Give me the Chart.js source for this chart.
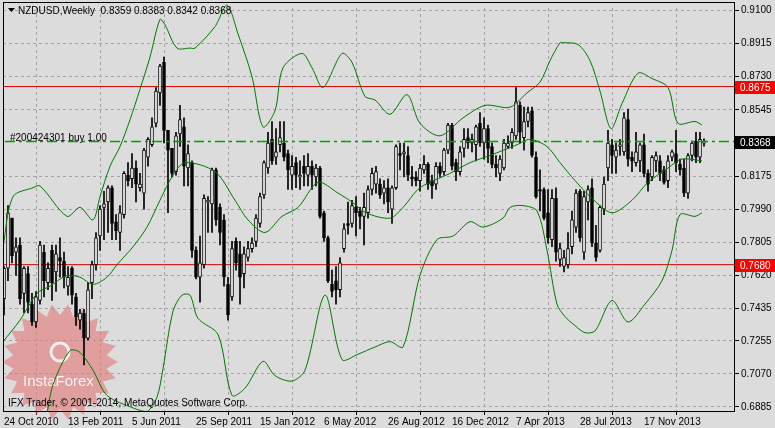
<!DOCTYPE html>
<html>
<head>
<meta charset="utf-8">
<script src="https://cdn.jsdelivr.net/npm/chart.js@4.4.1/dist/chart.umd.min.js"></script>
<style>
  html, body { margin: 0; padding: 0; background: #dcdcdc; }
  canvas { display: block; }
</style>
</head>
<body>
<canvas id="c" width="775" height="428"></canvas>
<script>
// weekly NZDUSD candles
const open = [
  .749,.766,.794,.775,.779,.752,.763,.746,.736,.748,.775,.758,
  .776,.764,.772,.770,.756,.766,.750,.737,.741,.727,.758,.768,
  .784,.800,.803,.811,.792,.786,.796,.818,.816,.822,.811,.808,
  .828,.835,.847,.864,.881,.843,.833,.820,.841,.845,.822,.825,
  .776,.761,.768,.803,.802,.821,.800,.793,.757,.750,.781,.774,
  .763,.772,.777,.781,.791,.807,.822,.838,.828,.835,.836,.830,
  .818,.825,.817,.823,.818,.823,.817,.822,.797,.783,.757,.759,
  .754,.777,.791,.791,.800,.798,.795,.797,.810,.813,.813,.808,
  .811,.799,.811,.830,.830,.829,.817,.817,.815,.821,.824,.815,
  .813,.823,.820,.832,.846,.825,.820,.833,.839,.836,.835,.847,
  .836,.844,.834,.824,.819,.822,.834,.836,.840,.857,.839,.848,
  .854,.828,.810,.810,.797,.782,.805,.771,.767,.768,.778,.789,
  .809,.775,.803,.811,.780,.776,.799,.822,.835,.828,.834,.831,
  .849,.828,.825,.826,.835,.819,.817,.826,.826,.821,.815,.828,
  .830,.824,.822,.808,.829,.837,.828,.8359
];
const high = [
  .767,.801,.794,.783,.783,.767,.767,.752,.753,.781,.779,.769,
  .779,.779,.783,.775,.767,.767,.752,.743,.743,.758,.770,.786,
  .801,.809,.812,.812,.796,.801,.820,.825,.830,.826,.819,.833,
  .839,.850,.867,.880,.884,.843,.833,.842,.857,.850,.835,.826,
  .778,.784,.807,.806,.822,.822,.802,.796,.761,.781,.783,.781,
  .778,.781,.783,.796,.808,.826,.842,.848,.844,.848,.848,.832,
  .829,.828,.826,.829,.830,.826,.824,.823,.798,.784,.765,.767,
  .772,.791,.803,.804,.806,.800,.808,.812,.822,.823,.816,.815,
  .816,.812,.835,.836,.836,.834,.823,.820,.824,.829,.825,.818,
  .825,.825,.833,.847,.847,.827,.834,.844,.844,.841,.846,.853,
  .850,.846,.836,.829,.829,.838,.840,.844,.867,.859,.856,.856,
  .856,.831,.821,.811,.810,.810,.811,.780,.776,.786,.798,.810,
  .810,.809,.812,.816,.790,.801,.817,.843,.838,.836,.838,.853,
  .855,.831,.842,.836,.841,.821,.829,.831,.829,.823,.829,.832,
  .843,.827,.827,.830,.837,.842,.842,.8383
];
const low = [
  .740,.759,.769,.762,.746,.741,.741,.734,.733,.746,.750,.754,
  .748,.753,.761,.755,.751,.746,.734,.732,.712,.726,.749,.765,
  .776,.782,.786,.782,.782,.776,.794,.812,.811,.803,.809,.799,
  .823,.834,.845,.857,.836,.797,.817,.818,.834,.812,.812,.772,
  .760,.747,.766,.786,.786,.790,.779,.756,.737,.748,.765,.746,
  .755,.770,.775,.778,.789,.805,.819,.824,.824,.831,.826,.810,
  .810,.811,.810,.812,.812,.810,.812,.794,.781,.758,.750,.746,
  .750,.775,.785,.789,.784,.788,.779,.794,.807,.808,.805,.802,
  .797,.791,.810,.821,.817,.815,.812,.812,.809,.819,.810,.805,
  .810,.817,.818,.830,.821,.815,.818,.828,.833,.831,.826,.834,
  .827,.825,.822,.817,.815,.821,.833,.833,.838,.836,.832,.845,
  .828,.805,.798,.793,.780,.778,.770,.767,.764,.766,.774,.786,
  .781,.771,.793,.778,.770,.775,.796,.815,.819,.819,.829,.829,
  .823,.820,.823,.820,.817,.809,.815,.820,.815,.813,.811,.826,
  .820,.818,.806,.805,.826,.825,.825,.8342
];
const close = [
  .766,.797,.773,.778,.749,.766,.747,.736,.750,.779,.759,.766,
  .758,.774,.770,.761,.761,.751,.739,.741,.727,.754,.768,.783,
  .799,.802,.811,.791,.787,.797,.819,.815,.822,.813,.813,.832,
  .838,.845,.865,.879,.843,.832,.819,.840,.849,.823,.830,.776,
  .761,.769,.805,.804,.821,.793,.786,.761,.740,.777,.769,.761,
  .774,.777,.780,.794,.806,.825,.836,.826,.831,.839,.828,.821,
  .823,.818,.818,.819,.823,.818,.822,.795,.783,.759,.753,.754,
  .769,.788,.790,.801,.797,.795,.800,.810,.819,.820,.807,.811,
  .803,.811,.834,.829,.831,.818,.816,.815,.822,.824,.813,.812,
  .823,.819,.832,.846,.823,.820,.831,.838,.836,.838,.845,.836,
  .844,.833,.824,.822,.827,.836,.836,.842,.859,.842,.848,.853,
  .829,.806,.809,.794,.783,.805,.775,.777,.772,.777,.793,.808,
  .783,.806,.810,.780,.772,.800,.813,.836,.829,.832,.835,.850,
  .827,.826,.831,.835,.819,.813,.828,.829,.819,.814,.826,.831,
  .825,.821,.808,.829,.836,.828,.838,.8368
];

// Bollinger bands, read at points along each curve (bar index, price)
const upperX = [-0.25,2.25,7.25,9,15.75,19,22.25,24,26.5,29,31.5,34,36.5,39,40.25,43.25,46.5,47.75,52.75,55.75,58.5,62,64.75,67.75,69.75,74.5,77,79.75,84.5,87,90.25,92.75,96.5,100.75,104,109,114.75,120.25,126.5,130.75,134,136.5,139,139.75,143.5,146.5,149,151.75,154.5,158.5,162,166,168.5,172.75,174.5];
const upperY = [.778,.806,.811,.812,.795,.800,.793,.806,.823,.834,.849,.866,.884,.905,.902,.889,.889,.889,.901,.913,.897,.873,.845,.854,.878,.886,.878,.867,.886,.881,.862,.860,.852,.863,.847,.840,.850,.857,.856,.864,.870,.882,.892,.892,.891,.882,.865,.844,.858,.875,.872,.867,.847,.848,.846];
const middleX = [-0.25,4,8.25,11.5,15.75,19,22.25,25.75,28.25,32.25,35.75,39,42.25,45.25,52.75,57.75,61,65.25,69.5,73.5,78.5,83.5,87,90.5,96.5,99.75,104,111.5,116.5,121.5,128.25,131.5,135.75,139,142.75,147,152,157,161,166,169.5,174.5];
const middleY = [.725,.737,.752,.756,.762,.761,.757,.761,.768,.778,.789,.804,.818,.825,.820,.804,.793,.786,.795,.800,.814,.808,.803,.797,.794,.800,.811,.819,.825,.829,.835,.838,.834,.825,.815,.805,.797,.804,.814,.822,.827,.826];
const lowerX = [-0.25,4,9.75,12.25,16.5,19,22.25,25.75,32.25,35.75,38.25,39.75,42.25,44.5,46.5,48.5,53.5,57,60.25,64.75,67.75,72,75.25,80.25,84.5,88.5,92.75,96.5,99.75,104,108.25,112.25,116.5,119.75,124.75,126.5,129.75,133.25,135.75,138.25,140.25,142.75,145.25,147.75,152,156,160.25,164.5,167,169,172.75,174.5];
const lowerY = [.672,.664,.678,.701,.720,.719,.709,.695,.688,.686,.694,.710,.742,.751,.751,.738,.729,.695,.699,.714,.706,.703,.709,.751,.715,.718,.722,.725,.722,.762,.782,.784,.792,.789,.794,.800,.801,.798,.776,.746,.739,.734,.730,.731,.748,.736,.746,.759,.776,.796,.795,.797];

const dateLabels = ['24 Oct 2010','13 Feb 2011','5 Jun 2011','25 Sep 2011','15 Jan 2012','6 May 2012',
  '26 Aug 2012','16 Dec 2012','7 Apr 2013','28 Jul 2013','17 Nov 2013',''];
// 0.8360 sits under the order-price marker, so it is left out
const priceTicks = [0.9100,0.8915,0.8730,0.8545,0.8175,0.7990,0.7805,0.7620,0.7435,0.7255,0.7070,0.6885];
const orderPrice = 0.8368;
const resistance = 0.8675;
const support = 0.7680;

const FONT = '"Liberation Sans", Arial, sans-serif';
const idx = open.map((_, i) => i);
const bodies = idx.map(i => ({ x: i, y: [open[i], close[i]] }));
const wicks = idx.map(i => ({ x: i, y: [low[i], high[i]] }));
const pts = (xs, ys) => xs.map((x, i) => ({ x: x, y: ys[i] }));
const hline = v => [{ x: -5, y: v }, { x: 200, y: v }];

const band = (data) => ({
  type: 'line', data: data, borderColor: '#007800', borderWidth: 1,
  pointRadius: 0, tension: 0.3, order: 0, clip: { left: 0, right: 0, top: 6, bottom: 0 }
});

const decor = {
  id: 'decor',
  beforeDraw(chart) {
    const c = chart.ctx;
    c.save();
    c.fillStyle = '#dcdcdc';
    c.fillRect(0, 0, chart.width, chart.height);
    c.restore();
  },
  beforeDatasetsDraw(chart) {
    const c = chart.ctx;
    c.save();
    // watermark star
    const cx = 60, cy = 362, n = 22;
    c.beginPath();
    for (let k = 0; k < n * 2; k++) {
      const r = k % 2 ? 47 : 58;
      const a = Math.PI * k / n;
      c.lineTo(cx + r * Math.cos(a), cy + r * Math.sin(a));
    }
    c.closePath();
    c.fillStyle = 'rgba(226,120,120,0.62)';
    c.fill();
    c.fillStyle = 'rgba(255,255,255,0.85)';
    c.font = '15px ' + FONT;
    c.fillText('InstaForex', 23, 386);
    c.beginPath();
    c.arc(60, 352, 9, 0, Math.PI * 2);
    c.lineWidth = 3;
    c.strokeStyle = 'rgba(255,255,255,0.8)';
    c.stroke();
    c.restore();
  },
  afterDraw(chart) {
    const c = chart.ctx, a = chart.chartArea, y = chart.scales.y;
    c.save();
    c.strokeStyle = '#000';
    c.lineWidth = 1;
    c.strokeRect(a.left + 0.5, 2.5, a.right - a.left - 1, a.bottom - 3);
    c.font = '10px ' + FONT;
    c.fillStyle = '#000';
    c.textBaseline = 'alphabetic';
    c.beginPath();
    c.moveTo(8, 8); c.lineTo(15, 8); c.lineTo(11.5, 12); c.closePath(); c.fill();
    c.fillText('NZDUSD,Weekly  0.8359 0.8383 0.8342 0.8368', 18, 14);
    c.fillText('#200424301 buy 1.00', 10, 141);
    c.fillText('IFX Trader, \u00a9 2001-2014, MetaQuotes Software Corp.', 8, 406);
    [[resistance, '#ff0000'], [support, '#ff0000'], [orderPrice, '#000000']].forEach(([v, col]) => {
      const py = Math.round(y.getPixelForValue(v));
      c.fillStyle = col;
      c.fillRect(a.right, py - 6, 40, 13);
      c.fillStyle = '#fff';
      c.fillText(v.toFixed(4), a.right + 5, py + 4);
    });
    c.restore();
  }
};

new Chart(document.getElementById('c'), {
  type: 'bar',
  data: {
    datasets: [
      band(pts(upperX, upperY)),
      band(pts(middleX, middleY)),
      band(pts(lowerX, lowerY)),
      { type: 'line', data: hline(resistance), borderColor: '#d00000', borderWidth: 1, pointRadius: 0, order: 4 },
      { type: 'line', data: hline(support), borderColor: '#d00000', borderWidth: 1, pointRadius: 0, order: 4 },
      { type: 'line', data: hline(orderPrice), borderColor: '#00a000', borderWidth: 1.5, borderDash: [10, 4, 3, 4], pointRadius: 0, order: -1 },
      { data: bodies, grouped: false, barThickness: 3, minBarLength: 1,
        backgroundColor: idx.map(i => close[i] >= open[i] ? '#ffffff' : '#000000'),
        borderColor: '#000', borderWidth: 1, borderSkipped: false, order: 1 },
      { data: wicks, grouped: false, barThickness: 1, backgroundColor: '#000', borderWidth: 0, order: 2 }
    ]
  },
  options: {
    responsive: false,
    animation: false,
    devicePixelRatio: 1,
    layout: { padding: { left: 3, top: 2, right: 0, bottom: 0 } },
    plugins: { legend: { display: false }, tooltip: { enabled: false } },
    scales: {
      x: {
        type: 'linear', min: -0.25, max: 182.75, offset: false,
        afterFit(s) { s.height = 16; },
        afterBuildTicks(s) { s.ticks = dateLabels.map((_, k) => ({ value: k * 16 })); },
        ticks: {
          autoSkip: false, maxRotation: 0, align: 'start', padding: 1, color: '#000',
          font: { size: 10, family: FONT },
          callback: (v) => dateLabels[Math.round(v / 16)]
        },
        grid: { color: '#a4a4a4', tickLength: 3, tickColor: '#000' },
        border: { display: false, dash: [3, 3] }
      },
      y: {
        position: 'right', min: 0.6857, max: 0.9114,
        afterFit(s) { s.width = 40; },
        afterBuildTicks(s) { s.ticks = priceTicks.map(v => ({ value: v })); },
        ticks: {
          padding: 2, color: '#000', font: { size: 10, family: FONT },
          callback: (v) => v.toFixed(4)
        },
        grid: { color: '#a4a4a4', tickLength: 4, tickColor: '#000' },
        border: { display: false, dash: [3, 3] }
      }
    }
  },
  plugins: [decor]
});
</script>
</body>
</html>
